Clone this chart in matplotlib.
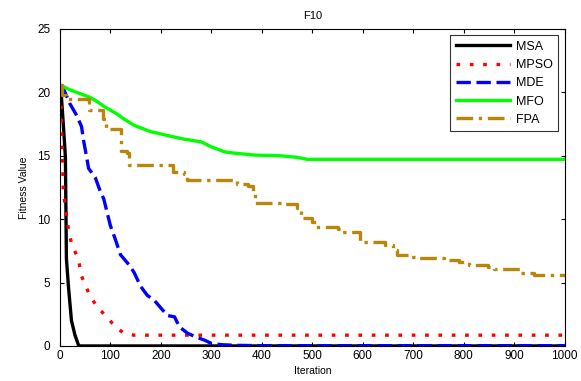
import matplotlib.pyplot as plt

plt.rcParams['font.family'] = ['Liberation Sans', 'DejaVu Sans']

# convergence curves (iteration, fitness)
msa_it = [0, 2, 7, 11, 13, 17, 23, 30, 37, 40, 1000]
msa_val = [20.2, 20.3, 17.4, 14.9, 6.9, 4.7, 2.0, 0.85, 0.05, 0.0, 0.0]

mpso_it = [0, 2, 7, 10, 17, 23, 37, 43, 57, 73, 93, 110, 127, 147, 1000]
mpso_val = [20.0, 19.4, 12.0, 11.3, 9.2, 8.1, 6.8, 5.5, 4.2, 3.1, 2.3, 1.5, 1.0, 0.85, 0.85]

mde_it = [0, 7, 20, 33, 43, 47, 53, 57, 70, 80, 87, 100, 110, 120, 137, 147, 160,
          173, 187, 200, 213, 227, 237, 253, 270, 287, 300, 320, 347, 400, 1000]
mde_val = [20.5, 20.3, 19.1, 18.2, 17.3, 16.2, 14.9, 14.0, 13.3, 12.2, 11.6, 9.5, 8.4,
           7.2, 6.4, 5.8, 4.7, 4.0, 3.6, 3.0, 2.4, 2.3, 1.5, 1.0, 0.7, 0.45, 0.2, 0.1,
           0.05, 0.02, 0.02]

mfo_it = [0, 20, 40, 60, 73, 87, 113, 127, 147, 180, 213, 247, 280, 300, 327, 347,
          387, 436, 469, 490, 1000]
mfo_val = [20.6, 20.2, 19.9, 19.6, 19.3, 18.9, 18.3, 17.9, 17.4, 16.9, 16.6, 16.3,
           16.1, 15.7, 15.3, 15.2, 15.05, 15.0, 14.88, 14.72, 14.72]

fpa_it = [0, 5, 12, 58, 85, 92, 122, 133, 137, 225, 245, 252, 350, 372, 383, 386,
          440, 470, 478, 500, 507, 550, 557, 595, 645, 660, 668, 695, 712, 760, 790,
          810, 848, 860, 912, 940, 1000]
fpa_val = [20.6, 19.8, 19.5, 18.6, 17.9, 17.1, 15.4, 15.2, 14.3, 13.7, 13.6, 13.1,
           12.8, 12.6, 12.2, 11.3, 11.2, 10.9, 10.1, 9.8, 9.4, 9.2, 9.0, 8.2, 8.0,
           7.6, 7.2, 7.05, 6.9, 6.75, 6.65, 6.4, 6.2, 6.1, 5.75, 5.6, 5.6]

x_ticks = [0, 100, 200, 300, 400, 500, 600, 700, 800, 900, 1000]
y_ticks = [0, 5, 10, 15, 20, 25]

fig = plt.figure(figsize=(5.81, 3.81), dpi=100)
ax = fig.add_axes([0.103, 0.092, 0.869, 0.832])

lw = 2.4
ax.plot(msa_it, msa_val, color='black', lw=lw, label='MSA')
ax.plot(mpso_it, mpso_val, color='red', lw=lw, dashes=(1.1, 2.9), label='MPSO')
ax.plot(mde_it, mde_val, color='blue', lw=lw, dashes=(4.3, 1.7), label='MDE')
ax.plot(mfo_it, mfo_val, color='#00ff00', lw=lw, label='MFO')
ax.plot(fpa_it, fpa_val, color='#b8860b', lw=lw, dashes=(5, 1.7, 1, 1.7),
        drawstyle='steps-post', label='FPA')

ax.set_xlim(0, 1000)
ax.set_ylim(0, 25)
ax.set_xticks(x_ticks)
ax.set_yticks(y_ticks)
ax.tick_params(direction='in', top=True, right=True, labelsize=8.5, length=3)
ax.tick_params(axis='y', pad=7)
ax.tick_params(axis='x', pad=3)
ax.set_xlabel('Iteration', fontsize=7.5, labelpad=3)
ax.set_ylabel('Fitness Value', fontsize=7.5, labelpad=6)
ax.set_title('F10', fontsize=8, pad=7)

leg = ax.legend(loc='upper right', fontsize=9, handlelength=4.3, frameon=True,
                fancybox=False, edgecolor='black', borderaxespad=0.5,
                labelspacing=0.5, handletextpad=0.5, borderpad=0.45)
leg.get_frame().set_linewidth(0.8)

fig.savefig('out.png', dpi=100)
